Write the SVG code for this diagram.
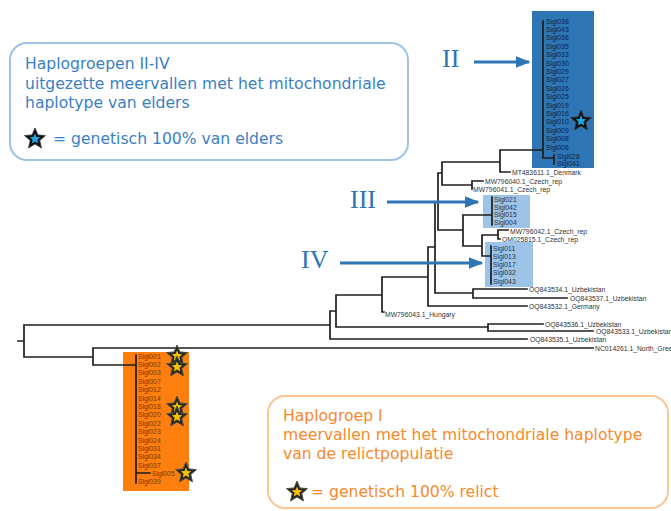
<svg xmlns="http://www.w3.org/2000/svg" xmlns:xlink="http://www.w3.org/1999/xlink" width="671" height="511" viewBox="0 0 671 511">
<style>
.br{fill:none;stroke:#1e1e1e;stroke-width:1.7;stroke-linecap:square}
.lf{font-family:"Liberation Sans",Arial,sans-serif;font-size:6.8px;fill:#333}
.lfII{fill:#0d2440}
.lfIV{fill:#27384e}
.lfI{fill:#7a3500}
.lgB{font-family:"DejaVu Sans",Verdana,sans-serif;font-size:15.6px;fill:#3a80c3}
.lgO{font-family:"DejaVu Sans",Verdana,sans-serif;font-size:15.6px;fill:#f7892a}
.rom{font-family:"Liberation Serif","Times New Roman",serif;font-size:26px;fill:#2e75b6}
.arw{stroke:#2e75b6;stroke-width:3;fill:none}
</style>
<defs>
<path id="star" d="M0,-11 L2.94,-4.05 L10.46,-3.4 L4.76,1.55 L6.47,8.9 L0,5 L-6.47,8.9 L-4.76,1.55 L-10.46,-3.4 L-2.94,-4.05 Z"/>
<g id="starY"><use xlink:href="#star" fill="#262626" stroke="#55503a" stroke-width="1"/><use xlink:href="#star" transform="scale(0.5)" fill="#f3c300"/></g>
<g id="starB"><use xlink:href="#star" fill="#111" stroke="#333" stroke-width="0.8"/><use xlink:href="#star" transform="scale(0.5)" fill="#1ea6e6"/></g>
<marker id="ah" markerWidth="5" markerHeight="4" refX="4.5" refY="2" orient="auto" markerUnits="strokeWidth"><path d="M0,0 L5,2 L0,4 Z" fill="#2e75b6"/></marker>
</defs>
<rect width="671" height="511" fill="#fff"/>

<g id="box-II"><rect x="532" y="11" width="62" height="157" fill="#2e75b6"/></g>
<g id="box-III"><rect x="483" y="195" width="47" height="33" fill="#9dc3e6"/></g>
<g id="box-IV"><rect x="485" y="242" width="48" height="45" fill="#9dc3e6"/></g>
<g id="box-I"><rect x="123" y="352" width="66" height="139" fill="#ff7f0e"/></g>

<g id="connectors">
<path class="br" d="M18,341 H24 M24,325 V357 M24,325 H330 M24,357 H93
M330,311 V339 M330,311 H336 M330,339 H527
M336,295 V327 M336,295 H382 M336,327 H488
M488,324 V331 M488,324 H543 M488,331 H593
M382,277 V312 M382,277 H428 M382,312 H384
M428,247 V306 M428,247 H435 M428,306 H527
M435,202 V293 M435,202 H438 M435,293 H473
M473,289 V298 M473,289 H527 M473,298 H567
M438,173 V230 M438,173 H442 M438,230 H463
M442,162 V185 M442,162 H500 M442,185 H472
M500,150 V172 M500,150 H543 M500,172 H510
M472,181 V189 M472,181 H483
M463,215 V246 M463,215 H492 M463,246 H482
M482,235 V256 M482,235 H498 M482,256 H491
M498,230 V239 M498,230 H508 M498,239 H500
M543,21 V158 M543,158 H554 M554,155 V164
M492,197 V225 M491,246 V284
M93,348 V365 M93,348 H593 M93,365 H136
M136,355 V483 M136,473 H150"/>
</g>

<g id="leaves-II" class="lf lfII">
<text x="546" y="23.5">Sigl038</text><text x="546" y="31.9">Sigl043</text><text x="546" y="40.3">Sigl036</text><text x="546" y="48.7">Sigl035</text>
<text x="546" y="57.1">Sigl033</text><text x="546" y="65.5">Sigl030</text><text x="546" y="73.9">Sigl029</text><text x="546" y="82.3">Sigl027</text>
<text x="546" y="90.7">Sigl026</text><text x="546" y="99.1">Sigl025</text><text x="546" y="107.5">Sigl019</text><text x="546" y="115.9">Sigl016</text>
<text x="546" y="124.3">Sigl010</text><text x="546" y="132.7">Sigl009</text><text x="546" y="141.1">Sigl008</text><text x="546" y="149.5">Sigl006</text>
<text x="557" y="158.5">Sigl028</text><text x="557" y="166">Sigl041</text>
</g>
<g id="leaves-III" class="lf lfIV">
<text x="494" y="201.5">Sigl021</text><text x="494" y="209.5">Sigl042</text><text x="494" y="216.8">Sigl015</text><text x="494" y="224.5">Sigl004</text>
</g>
<g id="leaves-IV" class="lf lfIV">
<text x="493" y="250.5">Sigl011</text><text x="493" y="258.7">Sigl013</text><text x="493" y="266.9">Sigl017</text><text x="493" y="275.3">Sigl032</text><text x="493" y="283.5">Sigl043</text>
</g>
<g id="leaves-I" class="lf lfI">
<text x="138" y="358.5">Sigl001</text><text x="138" y="366.9">Sigl002</text><text x="138" y="375.3">Sigl003</text><text x="138" y="383.7">Sigl007</text>
<text x="138" y="392.1">Sigl012</text><text x="138" y="400.5">Sigl014</text><text x="138" y="408.9">Sigl018</text><text x="138" y="417.3">Sigl020</text>
<text x="138" y="425.7">Sigl022</text><text x="138" y="434.1">Sigl023</text><text x="138" y="442.5">Sigl024</text><text x="138" y="450.9">Sigl031</text>
<text x="138" y="459.3">Sigl034</text><text x="138" y="467.7">Sigl037</text>
<text x="152" y="475.5">Sigl005</text><text x="138" y="484">Sigl039</text>
</g>
<g id="leaves-other" class="lf">
<text x="512" y="174.5">MT483611.1_Denmark</text>
<text x="485" y="183.5">MW796040.1_Czech_rep</text>
<text x="473" y="191.5">MW796041.1_Czech_rep</text>
<text x="510" y="233.5">MW796042.1_Czech_rep</text>
<text x="502" y="241.5">OM025815.1_Czech_rep</text>
<text x="529" y="292">OQ843534.1_Uzbekistan</text>
<text x="570" y="300.5">OQ843537.1_Uzbekistan</text>
<text x="529" y="308.5">OQ843532.1_Germany</text>
<text x="385" y="317">MW796043.1_Hungary</text>
<text x="545" y="326.5">OQ843536.1_Uzbekistan</text>
<text x="596" y="333.5">OQ843533.1_Uzbekistan</text>
<text x="530" y="341.5">OQ843535.1_Uzbekistan</text>
<text x="595" y="350.5">NC014261.1_North_Gree</text>
</g>

<g id="stars-I">
<use xlink:href="#starY" x="177" y="356"/>
<use xlink:href="#starY" x="177" y="367"/>
<use xlink:href="#starY" x="177" y="407"/>
<use xlink:href="#starY" x="177" y="417"/>
<use xlink:href="#starY" x="186" y="473"/>
</g>
<g id="star-II"><use xlink:href="#starB" x="581" y="121"/></g>

<g id="label-II"><text class="rom" x="442" y="67">II</text><line class="arw" x1="474" y1="62" x2="529" y2="62" marker-end="url(#ah)"/></g>
<g id="label-III"><text class="rom" x="350" y="208">III</text><line class="arw" x1="387" y1="202" x2="478" y2="202" marker-end="url(#ah)"/></g>
<g id="label-IV"><text class="rom" x="301" y="268">IV</text><line class="arw" x1="340" y1="263" x2="482" y2="263" marker-end="url(#ah)"/></g>

<g id="legend-blue">
<rect x="10" y="43" width="398" height="117" rx="17" fill="#fff" stroke="#9dc3e6" stroke-width="2"/>
<text class="lgB" x="25" y="69">Haplogroepen II-IV</text>
<text class="lgB" x="25" y="89">uitgezette meervallen met het mitochondriale</text>
<text class="lgB" x="25" y="108">haplotype van elders</text>
<use xlink:href="#starB" x="35" y="139"/>
<text class="lgB" x="53" y="144">= genetisch 100% van elders</text>
</g>
<g id="legend-orange">
<rect x="268" y="396" width="400" height="112" rx="17" fill="#fff" stroke="#fbc592" stroke-width="2"/>
<text class="lgO" x="283" y="421">Haplogroep I</text>
<text class="lgO" x="283" y="440">meervallen met het mitochondriale haplotype</text>
<text class="lgO" x="283" y="459">van de relictpopulatie</text>
<use xlink:href="#starY" x="297" y="492"/>
<text class="lgO" x="311" y="497">= genetisch 100% relict</text>
</g>
</svg>
